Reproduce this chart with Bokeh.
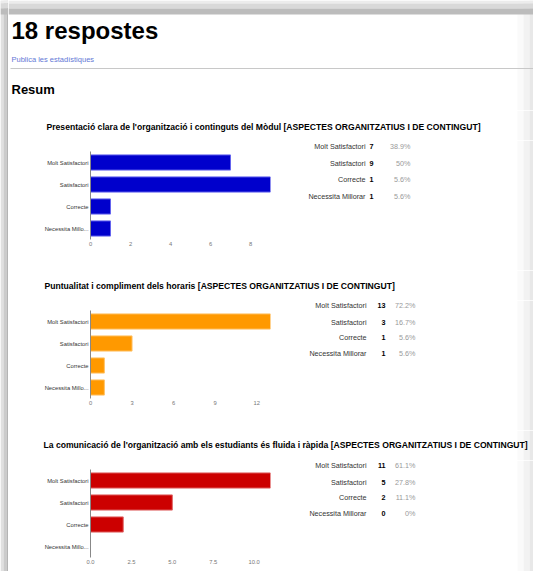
from bokeh.plotting import figure
from bokeh.layouts import column, row
from bokeh.models import Range1d, FactorRange, FixedTicker, NumeralTickFormatter
from bokeh.core.properties import value
from bokeh.embed import file_html
from bokeh.resources import INLINE

FONT = "Liberation Sans"

# ---------------- data ----------------
page_title = "18 respostes"
link_text = "Publica les estadístiques"
section_text = "Resum"

categories = ["Molt Satisfactori", "Satisfactori", "Correcte", "Necessita Millorar"]
axis_labels = ["Molt Satisfactori", "Satisfactori", "Correcte", "Necessita Millo..."]

titles = [
    "Presentació clara de l'organització i continguts del Mòdul [ASPECTES ORGANITZATIUS I DE CONTINGUT]",
    "Puntualitat i compliment dels horaris [ASPECTES ORGANITZATIUS I DE CONTINGUT]",
    "La comunicació de l'organització amb els estudiants és fluida i ràpida [ASPECTES ORGANITZATIUS I DE CONTINGUT]",
]
counts1 = [7, 9, 1, 1]
counts2 = [13, 3, 1, 1]
counts3 = [11, 5, 2, 0]
pct1 = ["38.9%", "50%", "5.6%", "5.6%"]
pct2 = ["72.2%", "16.7%", "5.6%", "5.6%"]
pct3 = ["61.1%", "27.8%", "11.1%", "0%"]
ticks1 = [0, 2, 4, 6, 8]
ticks2 = [0, 3, 6, 9, 12]
ticks3 = [0, 2.5, 5, 7.5, 10]
xmax = [9, 13, 11]

# ---------------- styles ----------------
bar_fill = ["#0000cc", "#ff9900", "#cc0000"]
bar_line = ["#6464ee", "#ffc266", "#e06666"]
TOTAL_W, TOTAL_H = 533, 571
LEFT = 8
W = TOTAL_W - LEFT


def blank_fig(w, h, x0, y0):
    p = figure(width=w, height=h, x_range=Range1d(x0, x0 + w), y_range=Range1d(y0 + h, y0),
               output_backend="svg", toolbar_location=None,
               x_axis_location=None, y_axis_location=None,
               min_border=0, min_border_left=0, min_border_right=0,
               min_border_top=0, min_border_bottom=0)
    p.grid.visible = False
    p.outline_line_color = None
    p.background_fill_color = "white"
    p.border_fill_color = "white"
    return p


def text_fig(w, h, x0, y0):
    p = blank_fig(w, h, x0, y0)
    # right page shadow
    p.quad(left=[517, 523, 529], right=[523, 529, 533], top=[y0] * 3, bottom=[y0 + h] * 3,
           fill_color=["#fafafa", "#f2f2f2", "#e8e8e8"], line_color=None)
    return p


def txt(p, x, y, t, size, color="#222222", bold=False, align="left"):
    p.text(x=x, y=y, text=t, text_font=value(FONT), text_font_size=size,
           text_font_style="bold" if bold else "normal", text_color=color,
           text_align=align, text_baseline="middle")


# ---------------- left page shadow ----------------
left = blank_fig(LEFT, TOTAL_H, 0, 0)
left.quad(left=[0, 3, 6], right=[3, 6, 8], top=[0] * 3, bottom=[TOTAL_H] * 3,
          fill_color=["#e0e0e0", "#cbcbcb", "#b4b4b4"], line_color=None)
left.quad(left=[0, 0, 0], right=[8, 8, 8], top=[0, 3, 8], bottom=[3, 8, 14],
          fill_color=["#ececec", "#d9d9d9", "#bcbcbc"], line_color=None)

# ---------------- header ----------------
header = text_fig(W, 110, LEFT, 0)
header.quad(left=[LEFT] * 3, right=[TOTAL_W] * 3, top=[0, 3, 8], bottom=[3, 8, 14],
            fill_color=["#ececec", "#d9d9d9", "#bcbcbc"], line_color=None)
txt(header, [11], [29.5], [page_title], "24px", color="#000000", bold=True)
txt(header, [11], [58.5], [link_text], "7.5px", color="#6478d6")
header.segment(x0=[10], y0=[68], x1=[TOTAL_W], y1=[68], line_color="#c8c8c8", line_width=1)
txt(header, [11], [88.5], [section_text], "13px", color="#000000", bold=True)


def section(idx, counts, pcts, ticks, y_top, title_mid, chart_h, frame_top, frame_h,
            table_rows, lab_right, cnt_right, pct_right, title_x):
    tf = text_fig(W, 30, LEFT, y_top)
    txt(tf, [title_x], [title_mid], [titles[idx]], "8.6px", color="#000000", bold=True)

    row_top = y_top + 30
    bt = frame_top - row_top
    bb = chart_h - bt - frame_h
    ch = figure(width=290 - LEFT, height=chart_h,
                y_range=FactorRange(factors=axis_labels[::-1]),
                x_range=Range1d(0, xmax[idx]),
                min_border_left=90 - LEFT, min_border_right=20,
                min_border_top=bt, min_border_bottom=bb,
                output_backend="svg", toolbar_location=None)
    ch.hbar(y=axis_labels, right=counts, left=0, height=0.69,
            fill_color=bar_fill[idx], line_color=bar_line[idx], line_width=1)
    ch.grid.visible = False
    ch.outline_line_color = None
    ch.xaxis.ticker = FixedTicker(ticks=ticks)
    if idx == 2:
        ch.xaxis.formatter = NumeralTickFormatter(format="0.0")
    ch.xaxis.axis_line_color = None
    ch.xaxis.major_tick_line_color = None
    ch.xaxis.minor_tick_line_color = None
    ch.xaxis.major_label_standoff = 2
    ch.xaxis.major_tick_out = 0
    ch.xaxis.major_label_text_font = FONT
    ch.xaxis.major_label_text_font_size = "5.8px"
    ch.xaxis.major_label_text_color = "#777777"
    ch.yaxis.axis_line_color = "#888888"
    ch.yaxis.major_tick_line_color = None
    ch.yaxis.minor_tick_line_color = None
    ch.yaxis.major_tick_out = 0
    ch.yaxis.major_label_standoff = 2
    ch.yaxis.major_label_text_font = FONT
    ch.yaxis.major_label_text_font_size = "5.8px"
    ch.yaxis.major_label_text_color = "#333333"

    tb = text_fig(TOTAL_W - 290, chart_h, 290, row_top)
    txt(tb, [lab_right] * 4, table_rows, categories, "7.2px", color="#333333", align="right")
    txt(tb, [cnt_right] * 4, table_rows, [str(c) for c in counts], "7.2px", color="#000000",
        bold=True, align="right")
    txt(tb, [pct_right] * 4, table_rows, pcts, "7.2px", color="#999999", align="right")
    return column(tf, row(column(ch), column(tb), spacing=0), spacing=0)


s1 = section(0, counts1, pct1, ticks1, 110, 126, 130, 151, 88,
             [146, 162.5, 179, 195.5], 365, 373, 410, 46)
s2 = section(1, counts2, pct2, ticks2, 270, 285.5, 130, 310, 88,
             [305, 321.5, 337, 353], 366, 385, 415, 44)
s3 = section(2, counts3, pct3, ticks3, 430, 444.5, TOTAL_H - 460, 469, 88,
             [465, 481.5, 497, 512.5], 366, 385, 415, 43)

layout = row(left, column(header, s1, s2, s3, spacing=0), spacing=0)

open("out.html", "w").write(file_html(layout, INLINE))
